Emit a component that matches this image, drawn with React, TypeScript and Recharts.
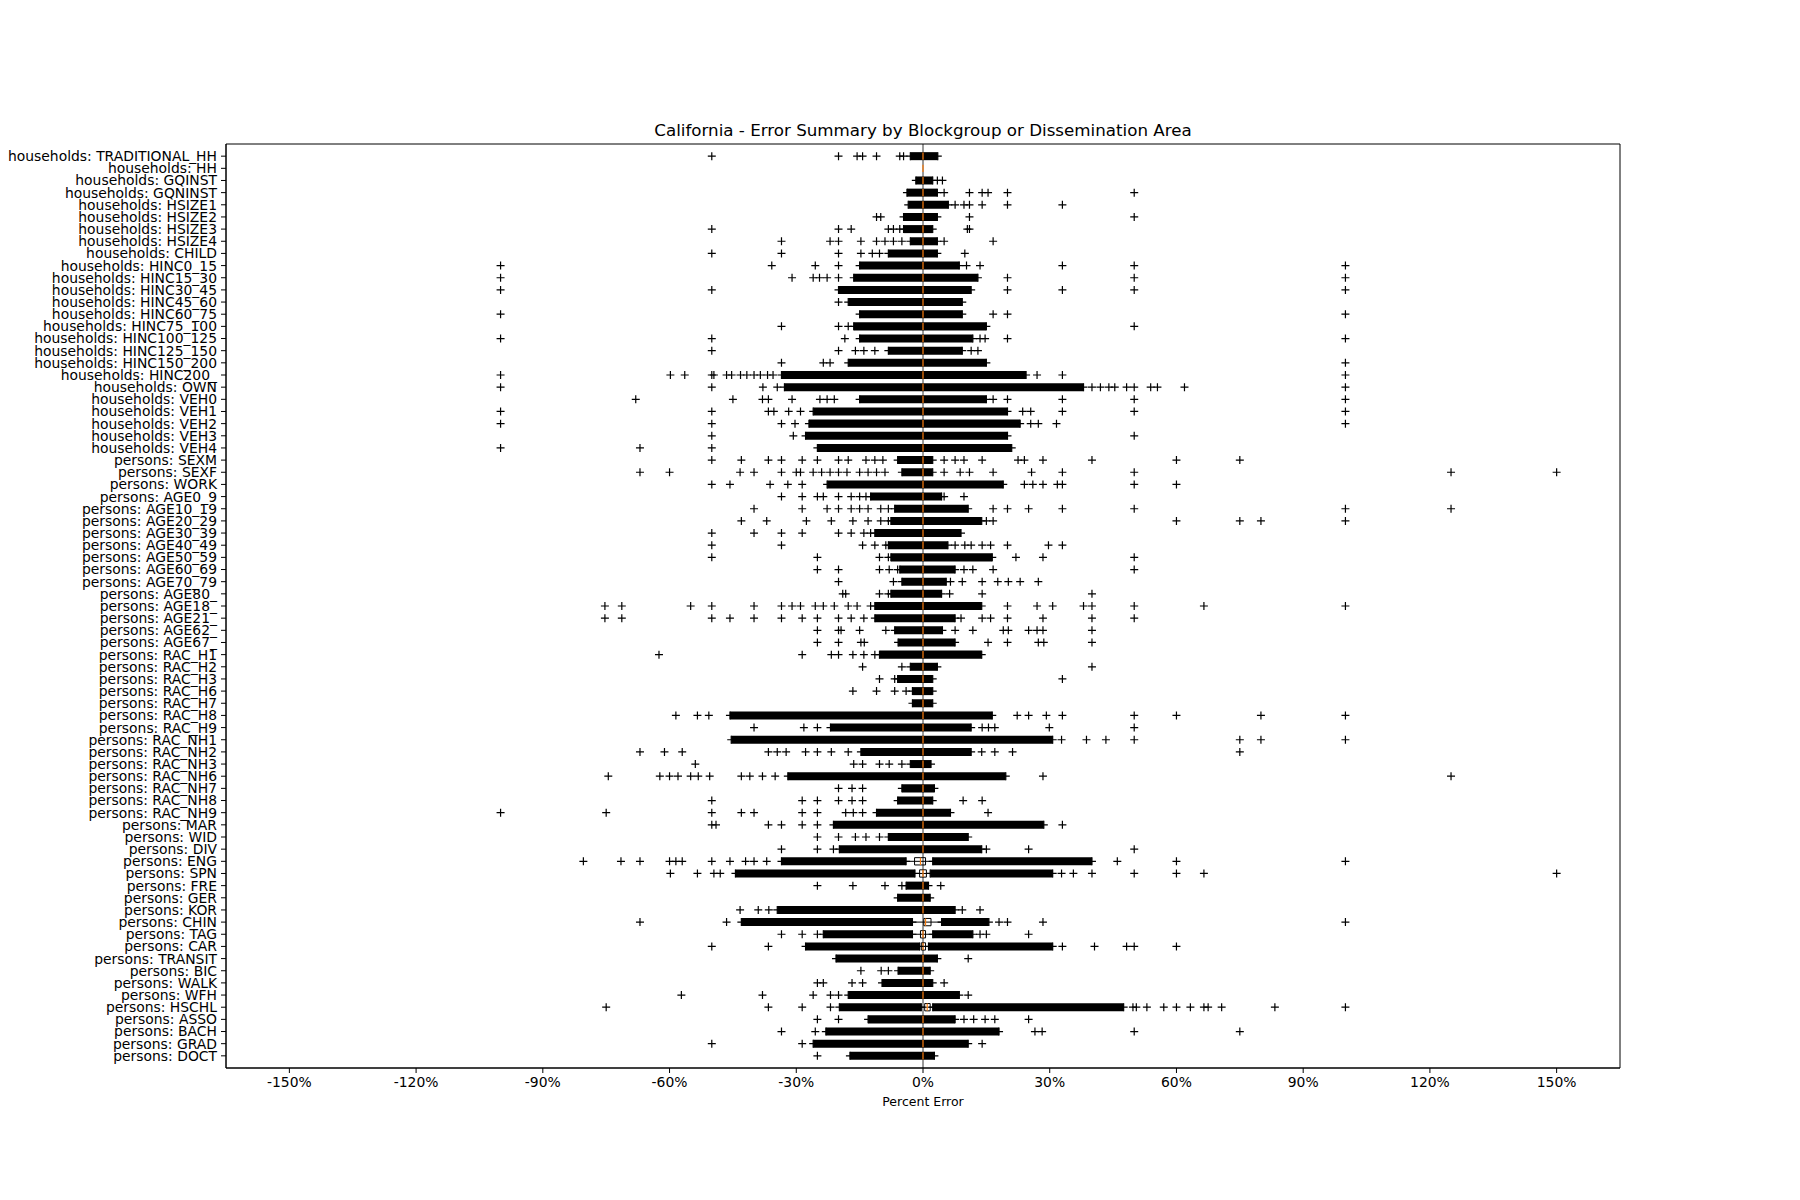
import React from 'react'
import { ScatterChart, Scatter, XAxis, YAxis, ReferenceArea, ReferenceLine } from 'recharts'

const categories = [
  'households: TRADITIONAL_HH', 'households: HH', 'households: GQINST', 'households: GQNINST',
  'households: HSIZE1', 'households: HSIZE2', 'households: HSIZE3', 'households: HSIZE4',
  'households: CHILD', 'households: HINC0_15', 'households: HINC15_30', 'households: HINC30_45',
  'households: HINC45_60', 'households: HINC60_75', 'households: HINC75_100', 'households: HINC100_125',
  'households: HINC125_150', 'households: HINC150_200', 'households: HINC200_', 'households: OWN',
  'households: VEH0', 'households: VEH1', 'households: VEH2', 'households: VEH3', 'households: VEH4',
  'persons: SEXM', 'persons: SEXF', 'persons: WORK', 'persons: AGE0_9', 'persons: AGE10_19',
  'persons: AGE20_29', 'persons: AGE30_39', 'persons: AGE40_49', 'persons: AGE50_59', 'persons: AGE60_69',
  'persons: AGE70_79', 'persons: AGE80_', 'persons: AGE18_', 'persons: AGE21_', 'persons: AGE62_',
  'persons: AGE67_', 'persons: RAC_H1', 'persons: RAC_H2', 'persons: RAC_H3', 'persons: RAC_H6',
  'persons: RAC_H7', 'persons: RAC_H8', 'persons: RAC_H9', 'persons: RAC_NH1', 'persons: RAC_NH2',
  'persons: RAC_NH3', 'persons: RAC_NH6', 'persons: RAC_NH7', 'persons: RAC_NH8', 'persons: RAC_NH9',
  'persons: MAR', 'persons: WID', 'persons: DIV', 'persons: ENG', 'persons: SPN', 'persons: FRE',
  'persons: GER', 'persons: KOR', 'persons: CHIN', 'persons: TAG', 'persons: CAR', 'persons: TRANSIT',
  'persons: BIC', 'persons: WALK', 'persons: WFH', 'persons: HSCHL', 'persons: ASSO', 'persons: BACH',
  'persons: GRAD', 'persons: DOCT',
]

// extent of the dense run of outlier markers (reads as a solid black band)
const bandLow = [
  -3, 0, -1.7, -3.8, -3.5, -4.6, -4.6, -3, -8.2, -15, -16.4, -20, -17.7, -15, -16.4, -15, -8.2, -17.7, -33.5, -32.8,
  -15, -26, -27, -27.8, -25, -6, -5, -22.7, -12.4, -6.7, -7.6, -11.4, -8.2, -7.6, -5.5, -5, -7.6, -11.4, -11.4, -6.7,
  -5.9, -10.3, -3, -6, -2.5, -2.5, -45.7, -21.9, -45.4, -14.7, -3, -32, -5, -6, -11, -21.2, -8.2, -19.8, -33.5, -44.4,
  -4, -6, -34.5, -43, -23.6, -27.8, -20.6, -5.9, -9.7, -17.7, -19.8, -13, -23, -26, -17.3,
]
const bandHigh = [
  3.5, 0, 2.3, 3.4, 6, 3.4, 2.3, 3.4, 3.4, 8.6, 13, 11.4, 9.3, 9.3, 15, 11.8, 9.3, 15, 24.4, 38,
  15, 20, 23, 20, 21, 2.3, 2.3, 19, 4.4, 10.7, 13.9, 9, 5.9, 16.4, 7.6, 5.5, 4.4, 13.9, 7.6, 4.6,
  7.6, 13.9, 3.4, 2.3, 2.3, 2.3, 16.4, 11.4, 30.7, 11.4, 1.9, 19.6, 2.7, 2.3, 6.5, 28.6, 10.7, 13.9, 40, 30.7,
  1.3, 1.7, 7.6, 15.6, 11.8, 30.7, 3.4, 1.7, 2.3, 8.6, 47.5, 7.6, 18, 10.7, 2.7,
]

// whisker ends, only where the band splits around the box
const whiskerLow: (number | null)[] = categories.map(() => null)
const whiskerHigh: (number | null)[] = categories.map(() => null)
const boxLow: (number | null)[] = categories.map(() => null)
const boxHigh: (number | null)[] = categories.map(() => null)
const splitRows = [58, 59, 63, 64, 65, 70]
const splitWhiskerLow = [-4, -1.9, -2.5, -2.5, -0.8, -0.4]
const splitWhiskerHigh = [2.3, 1.7, 4.4, 2.3, 1.3, 2.3]
const splitBoxLow = [-2, -0.8, 0.2, -0.6, -0.4, 0.4]
const splitBoxHigh = [0.6, 0.8, 1.9, 0.6, 0.6, 1.7]
splitRows.forEach((r, i) => {
  whiskerLow[r] = splitWhiskerLow[i]
  whiskerHigh[r] = splitWhiskerHigh[i]
  boxLow[r] = splitBoxLow[i]
  boxHigh[r] = splitBoxHigh[i]
})

const medians = categories.map(() => 0)
medians[58] = -0.6
medians[63] = 0.6
medians[70] = 1

const outliers = [
  [-50, -20, -15.6, -14.3, -11, -5.5, -4.6],
  [],
  [3.4, 4.6],
  [5, 11, 14, 15.4, 20, 50],
  [7.6, 9.7, 11, 14, 20, 33],
  [-11, -10, 11, 50],
  [-50, -20, -17, -8.2, -7, -5.5, 10.5, 11],
  [-33.5, -22, -20, -14.7, -11, -9, -7, -5, 5, 16.6],
  [-50, -33.5, -20, -14.7, -12, -10.3, 9.9],
  [-100, -35.8, -25.5, -20, 10.3, 13.5, 33, 50, 100],
  [-100, -31, -26, -24.5, -22.7, -20, 20, 50, 100],
  [-100, -50, 20, 33, 50, 100],
  [-20],
  [-100, 16.6, 20, 100],
  [-33.5, -20, -17.7, 50],
  [-100, -50, -18.5, 13.5, 14.7, 20, 100],
  [-50, -20, -16, -14, -11.4, 11.4, 13],
  [-33.5, -23.6, -22, 100],
  [-100, -59.8, -56.4, -50, -49.5, -46.5, -45.3, -43.2, -41.7, -40, -38.5, -36.8, -35.5, 27, 33, 100],
  [-100, -50, -37.9, -34.5, 40, 42, 44, 45.4, 48.2, 50, 53.9, 55.5, 61.9, 100],
  [-68, -45, -38, -36.6, -31, -24.4, -22.7, -21, 16.6, 20, 33, 50, 100],
  [-100, -50, -36.6, -35.3, -31.8, -29, 23.6, 25.5, 33, 50, 100],
  [-100, -50, -33.5, -30.3, 25.5, 27.3, 31.6, 100],
  [-50, -30.7, 50],
  [-100, -67, -50],
  [-50, -43, -36.6, -33.5, -28.6, -25, -20, -17.7, -13.5, -11.4, -9.5, 5, 7.6, 9.7, 14, 22.5, 24, 28.4, 40, 60, 75],
  [-67, -60, -43.3, -40, -33.5, -30, -29, -26, -24, -22, -20, -18, -15, -13, -11, -9, 5, 8.8, 11, 16.6, 25.7, 33, 50, 125, 150],
  [-50, -45.7, -36.2, -32, -28.6, 24, 26, 28.4, 31.8, 33, 50, 60],
  [-33.5, -28.6, -25, -23.6, -20, -17, -15, -13.5, 5, 9.7],
  [-40, -28.6, -22.7, -20, -17, -15, -13, -10, -8.2, 16.6, 20, 25, 33, 50, 100, 125],
  [-43, -37, -27.6, -21.7, -16.6, -13, -10, -8.2, 15, 16.6, 60, 75, 80, 100],
  [-50, -40, -33.5, -28.6, -20, -17, -14, -12.4],
  [-50, -33.5, -14.3, -11.4, -8.8, 7.6, 9.9, 11.4, 14, 16, 20, 29.7, 33],
  [-50, -25, -10.3, -8.2, 22, 28.4, 50],
  [-25, -20, -10.3, -8, -6, 9.7, 11.8, 16.6, 50],
  [-20, -7, 6.5, 9.3, 14, 17.7, 20.2, 23, 27.3],
  [-19, -18.3, -10.3, -8.2, 6.3, 14, 40],
  [-75.3, -71.3, -55, -50, -40, -33.5, -31, -29, -25.5, -23.6, -21, -17.7, -15.6, -12.4, 20, 27, 30.7, 38, 40, 50, 66.5, 100],
  [-75.3, -71.3, -50, -45.7, -40, -33.5, -28.6, -25, -20, -17, -14, 9, 14, 16, 20, 28.4, 40, 50],
  [-25, -20, -19.4, -15, -8.8, 7.6, 11.8, 19, 20.2, 25, 27, 28.4, 40],
  [-25, -20, -14.7, -13.9, 15.4, 20, 27.3, 28.6, 40],
  [-62.5, -28.6, -21.7, -20, -16.6, -14, -11.4],
  [-14.3, -5, 40],
  [-10.3, -6.7, 33],
  [-16.6, -11, -6.7, -4],
  [],
  [-58.5, -53.4, -50.7, 22.3, 25, 29.2, 33, 50, 60, 80, 100],
  [-40, -28.2, -25, 14, 15.5, 17, 29.9, 50],
  [32.8, 38.7, 43.3, 50, 75, 80, 100],
  [-67, -61.2, -57, -36.6, -34.5, -32.4, -27.8, -25, -21.7, -17.7, 13.9, 17, 21.2, 75],
  [-53.9, -16.4, -14.3, -10.3, -8, -5],
  [-74.5, -62.3, -60, -58, -55, -53.2, -50.5, -43, -41, -38, -35, 28.4, 125],
  [-20, -16.8, -14.3],
  [-50, -28.6, -25, -20, -16.8, -14.3, 9.5, 14],
  [-100, -75, -50, -43, -40, -28.6, -25, -18.3, -16.5, -14.3, 15.4],
  [-50, -49, -36.6, -33.5, -28.6, -25, 33],
  [-25, -20, -16, -13.5, -10.3],
  [-33.5, -25, -21.2, 15, 25, 50],
  [-80.4, -71.5, -67, -60, -58.5, -57, -50, -45.7, -42, -40, -37, 46, 60, 100],
  [-59.8, -53.4, -49.5, -48, 32.8, 35.6, 40, 50, 60, 66.5, 150],
  [-25, -16.6, -9, -5, 4.2],
  [],
  [-43.3, -39, -36.5, 9.3, 13.5],
  [-67, -46.5, 18, 20, 28.4, 100],
  [-33.5, -28.6, -25, 13.5, 15, 25],
  [-50, -36.6, 33, 40.6, 48.2, 50, 60],
  [10.7],
  [-14.7, -9.9, -8.2],
  [-25, -23.6, -16.8, -14.3, 5],
  [-57.2, -38, -26, -21.9, -20, 10.7],
  [-75, -36.6, -28.6, -21.9, 49.7, 50.5, 53, 57, 60, 63.3, 66.5, 67.5, 70.7, 83.3, 100],
  [-25, -20, 9.7, 12, 14.7, 17, 25],
  [-33.5, -25.5, 26.5, 28.2, 50, 75],
  [-50, -28.6, 14],
  [-25],
]

const xTicks = [-150, -120, -90, -60, -30, 0, 30, 60, 90, 120, 150]
const rowTicks = categories.map((_, i) => i)

const FONT = '"DejaVu Sans", sans-serif'
const HALF = 0.33

// outliers plus the marker at each end of every band
const points: { x: number; y: number }[] = []
categories.forEach((_, i) => {
  outliers[i].forEach((v) => points.push({ x: v, y: i }))
  if (bandLow[i] !== bandHigh[i]) {
    points.push({ x: bandLow[i], y: i })
    points.push({ x: bandHigh[i], y: i })
  }
  if (whiskerLow[i] !== null) {
    points.push({ x: whiskerLow[i] as number, y: i })
    points.push({ x: whiskerHigh[i] as number, y: i })
  }
})

const Plus = (props: any) => {
  const { cx, cy } = props
  if (cx == null || cy == null) return null
  return (
    <path
      d={`M${cx - 4},${cy}H${cx + 4}M${cx},${cy - 4}V${cy + 4}`}
      stroke="#000"
      strokeWidth={1.2}
      fill="none"
    />
  )
}

export default function App() {
  return (
    <div style={{ position: 'absolute', left: 0, top: 0, width: 1800, height: 1200, background: '#fff', fontFamily: FONT }}>
      <div style={{ position: 'absolute', left: 0, width: 1846, top: 120, textAlign: 'center', fontSize: 16.7, color: '#000' }}>
        California - Error Summary by Blockgroup or Dissemination Area
      </div>
      <ScatterChart width={1800} height={1200} margin={{ top: 144, right: 180, left: 6, bottom: 82 }}>
        <XAxis
          type="number"
          dataKey="x"
          domain={[-165, 165]}
          ticks={xTicks}
          interval={0}
          tickFormatter={(v: number) => `${v}%`}
          tick={{ fontSize: 13.9, fill: '#000', fontFamily: FONT }}
          tickSize={5}
          tickMargin={4}
          stroke="#000"
          height={50}
          allowDataOverflow
        />
        <YAxis
          type="number"
          dataKey="y"
          domain={[-1, 75]}
          reversed
          ticks={rowTicks}
          interval={0}
          tickFormatter={(v: number) => categories[v] ?? ''}
          tick={{ fontSize: 13.9, fill: '#000', fontFamily: FONT }}
          tickSize={5}
          tickMargin={4}
          stroke="#000"
          width={220}
          allowDataOverflow
        />
        <ReferenceLine x={0} stroke="#000" strokeWidth={0.8} />
        {categories.map((_, i) =>
          whiskerLow[i] === null ? (
            bandLow[i] !== bandHigh[i] && (
              <ReferenceArea key={`b${i}`} x1={bandLow[i]} x2={bandHigh[i]} y1={i - HALF} y2={i + HALF} fill="#000" fillOpacity={1} stroke="none" />
            )
          ) : (
            <React.Fragment key={`b${i}`}>
              <ReferenceArea x1={bandLow[i]} x2={whiskerLow[i] as number} y1={i - HALF} y2={i + HALF} fill="#000" fillOpacity={1} stroke="none" />
              <ReferenceArea x1={whiskerHigh[i] as number} x2={bandHigh[i]} y1={i - HALF} y2={i + HALF} fill="#000" fillOpacity={1} stroke="none" />
              <ReferenceLine segment={[{ x: whiskerLow[i] as number, y: i }, { x: whiskerHigh[i] as number, y: i }]} stroke="#000" strokeWidth={1} />
              <ReferenceArea x1={boxLow[i] as number} x2={boxHigh[i] as number} y1={i - 0.3} y2={i + 0.3} fill="#fff" fillOpacity={1} stroke="#000" strokeWidth={1} />
            </React.Fragment>
          )
        )}
        <Scatter data={points} shape={<Plus />} isAnimationActive={false} />
        {categories.map((_, i) => (
          <ReferenceLine key={`m${i}`} segment={[{ x: medians[i], y: i - 0.3 }, { x: medians[i], y: i + 0.3 }]} stroke="#ff7f0e" strokeWidth={1.2} />
        ))}
        <ReferenceArea x1={-165} x2={165} y1={-1} y2={75} fill="none" stroke="#000" strokeWidth={1} />
      </ScatterChart>
      <div style={{ position: 'absolute', left: 0, width: 1846, top: 1094, textAlign: 'center', fontSize: 12.5, color: '#000' }}>
        Percent Error
      </div>
    </div>
  )
}
